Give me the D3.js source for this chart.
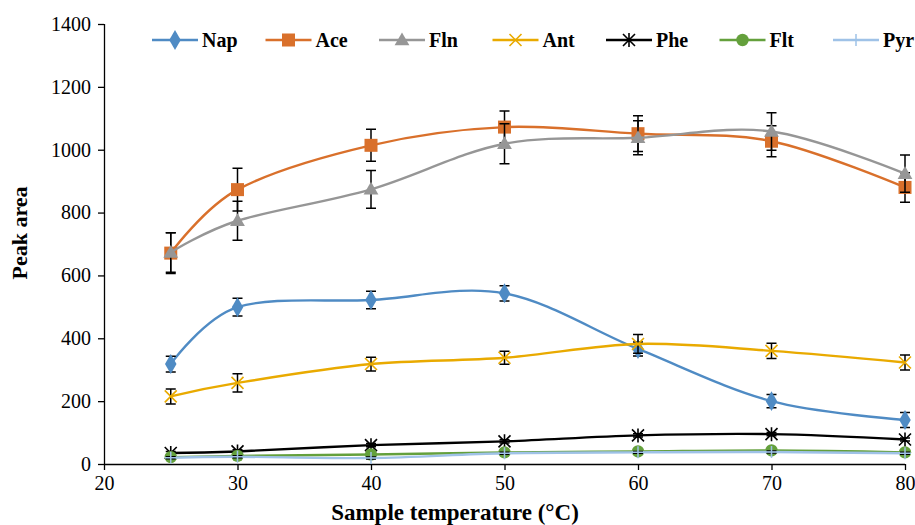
<!DOCTYPE html>
<html lang="en">
<head>
<meta charset="UTF-8">
<title>Peak area vs sample temperature</title>
<script src="https://d3js.org/d3.v7.min.js"></script>
<style>
  body { margin: 0; background: #fff; }
  text { font-family: "Liberation Serif", "Times New Roman", serif; fill: #000; }
</style>
</head>
<body>
<script>

// values
var temps = [25, 30, 40, 50, 60, 70, 80];
var seriesNames = ['Nap', 'Ace', 'Fln', 'Ant', 'Phe', 'Flt', 'Pyr'];

var nap = [318, 499, 522, 543, 366, 200, 140];
var napErr = [25, 28, 28, 24, 22, 21, 24];
var ace = [671, 873, 1014, 1072, 1051, 1027, 880];
var aceErr = [65, 68, 51, 51, 57, 49, 47];
var fln = [673, 774, 874, 1019, 1038, 1058, 924];
var flnErr = [63, 62, 60, 64, 54, 60, 59];
var ant = [215, 258, 318, 338, 382, 360, 323];
var antErr = [24, 29, 22, 21, 30, 24, 24];
var phe = [35, 40, 60, 72, 91, 95, 78];
var pheErr = [5, 5, 5, 5, 5, 5, 5];
var flt = [22, 26, 30, 37, 40, 43, 37];
var fltErr = [4, 4, 4, 4, 4, 4, 4];
var pyr = [20, 23, 19, 34, 37, 38, 34];
var pyrErr = [3, 3, 3, 3, 3, 3, 3];

var xTicks = [20, 30, 40, 50, 60, 70, 80];
var yTicks = [0, 200, 400, 600, 800, 1000, 1200, 1400];

var w = 915, h = 525;

var colors = {
    Nap: '#4f8bc4', Ace: '#d9702b', Fln: '#969696', Ant: '#e9aa00',
    Phe: '#000000', Flt: '#64a03c', Pyr: '#9fc2e7'
};
var shapes = {
    Nap: 'diamond', Ace: 'square', Fln: 'triangle', Ant: 'x',
    Phe: 'star', Flt: 'circle', Pyr: 'plus'
};

var series = [
    { name: 'Nap', values: nap, err: napErr },
    { name: 'Ace', values: ace, err: aceErr },
    { name: 'Fln', values: fln, err: flnErr },
    { name: 'Ant', values: ant, err: antErr },
    { name: 'Phe', values: phe, err: pheErr },
    { name: 'Flt', values: flt, err: fltErr },
    { name: 'Pyr', values: pyr, err: pyrErr }
];

var x = d3.scaleLinear().domain([20, 80]).range([104, 905]);
var y = d3.scaleLinear().domain([0, 1400]).range([464, 24]);

var svg = d3.select('body').append('svg')
    .attr('width', w).attr('height', h);

// axes
var yAxis = d3.axisLeft(y).tickValues(yTicks).tickSize(6).tickPadding(7).tickFormat(d3.format('d'));
var xAxis = d3.axisBottom(x).tickValues(xTicks).tickSize(6).tickPadding(6);

var gy = svg.append('g').attr('transform', 'translate(104,0)').call(yAxis);
var gx = svg.append('g').attr('transform', 'translate(0,464)').call(xAxis);
[gx, gy].forEach(function(g) {
    g.select('.domain').attr('stroke', '#000').attr('stroke-width', 1.3);
    g.selectAll('.tick line').attr('stroke', '#000').attr('stroke-width', 1.3);
    g.selectAll('.tick text').attr('font-size', 20)
        .attr('font-family', '"Liberation Serif", serif').attr('fill', '#000');
});
gy.select('.domain').attr('d', 'M0.5,' + y(1400) + 'V' + y(0));
gx.select('.domain').attr('d', 'M' + x(20) + ',0.5H' + x(80));

svg.append('text')
    .attr('x', 455).attr('y', 520)
    .attr('text-anchor', 'middle')
    .attr('font-size', 23).attr('font-weight', 'bold')
    .text('Sample temperature (°C)');

svg.append('text')
    .attr('transform', 'translate(27,233) rotate(-90)')
    .attr('text-anchor', 'middle')
    .attr('font-size', 22).attr('font-weight', 'bold')
    .text('Peak area');

// marker drawing
function marker(g, shape, color, cx, cy) {
    if (shape == 'diamond') {
        g.append('path').attr('d', d3.symbol().type(d3.symbolDiamond).size(115)())
            .attr('transform', 'translate(' + cx + ',' + cy + ')')
            .attr('fill', color);
    } else if (shape == 'square') {
        g.append('rect').attr('x', cx - 6.5).attr('y', cy - 6.5)
            .attr('width', 13).attr('height', 13).attr('fill', color);
    } else if (shape == 'triangle') {
        g.append('path').attr('d', d3.symbol().type(d3.symbolTriangle).size(95)())
            .attr('transform', 'translate(' + cx + ',' + (cy + 1) + ')')
            .attr('fill', color);
    } else if (shape == 'circle') {
        g.append('circle').attr('cx', cx).attr('cy', cy).attr('r', 6.2).attr('fill', color);
    } else {
        var r = 6, p = '';
        if (shape == 'x' || shape == 'star') {
            p += 'M' + (cx - r) + ',' + (cy - r) + 'L' + (cx + r) + ',' + (cy + r);
            p += 'M' + (cx - r) + ',' + (cy + r) + 'L' + (cx + r) + ',' + (cy - r);
        }
        if (shape == 'star') {
            p += 'M' + cx + ',' + (cy - r - 1) + 'L' + cx + ',' + (cy + r + 1);
        }
        if (shape == 'plus') {
            p += 'M' + (cx - r) + ',' + cy + 'L' + (cx + r) + ',' + cy;
            p += 'M' + cx + ',' + (cy - r) + 'L' + cx + ',' + (cy + r);
        }
        g.append('path').attr('d', p).attr('stroke', color)
            .attr('stroke-width', shape == 'plus' ? 1.5 : 1.6).attr('fill', 'none');
    }
}

var line = d3.line()
    .x(function(d) { return x(d[0]); })
    .y(function(d) { return y(d[1]); })
    .curve(d3.curveCardinal.tension(0));

var plot = svg.append('g');

series.forEach(function(s) {
    var g = plot.append('g');
    var pts = temps.map(function(t, i) { return [t, s.values[i]]; });

    g.append('path').datum(pts)
        .attr('d', line)
        .attr('fill', 'none')
        .attr('stroke', colors[s.name])
        .attr('stroke-width', 2.4);

    // error bars
    var eb = g.append('g').attr('stroke', '#000').attr('stroke-width', 1.5);
    temps.forEach(function(t, i) {
        var cx = x(t), top = y(s.values[i] + s.err[i]), bot = y(s.values[i] - s.err[i]);
        eb.append('path').attr('d',
            'M' + cx + ',' + top + 'V' + bot +
            'M' + (cx - 5) + ',' + top + 'H' + (cx + 5) +
            'M' + (cx - 5) + ',' + bot + 'H' + (cx + 5));
    });

    pts.forEach(function(p) {
        marker(g, shapes[s.name], colors[s.name], x(p[0]), y(p[1]));
    });
});

// legend, fixed pitch so the last entry stays inside the page
var legend = svg.append('g');
var lx0 = 152, pitch = 113.5, ly = 40;
seriesNames.forEach(function(name, i) {
    var lx = lx0 + i * pitch;
    var g = legend.append('g');
    g.append('line').attr('x1', lx).attr('x2', lx + 46)
        .attr('y1', ly).attr('y2', ly)
        .attr('stroke', colors[name]).attr('stroke-width', 2.4);
    marker(g, shapes[name], colors[name], lx + 23, ly);
    g.append('text').attr('x', lx + 50).attr('y', ly + 7)
        .attr('font-size', 20).attr('font-weight', 'bold')
        .text(name);
});

</script>
</body>
</html>
